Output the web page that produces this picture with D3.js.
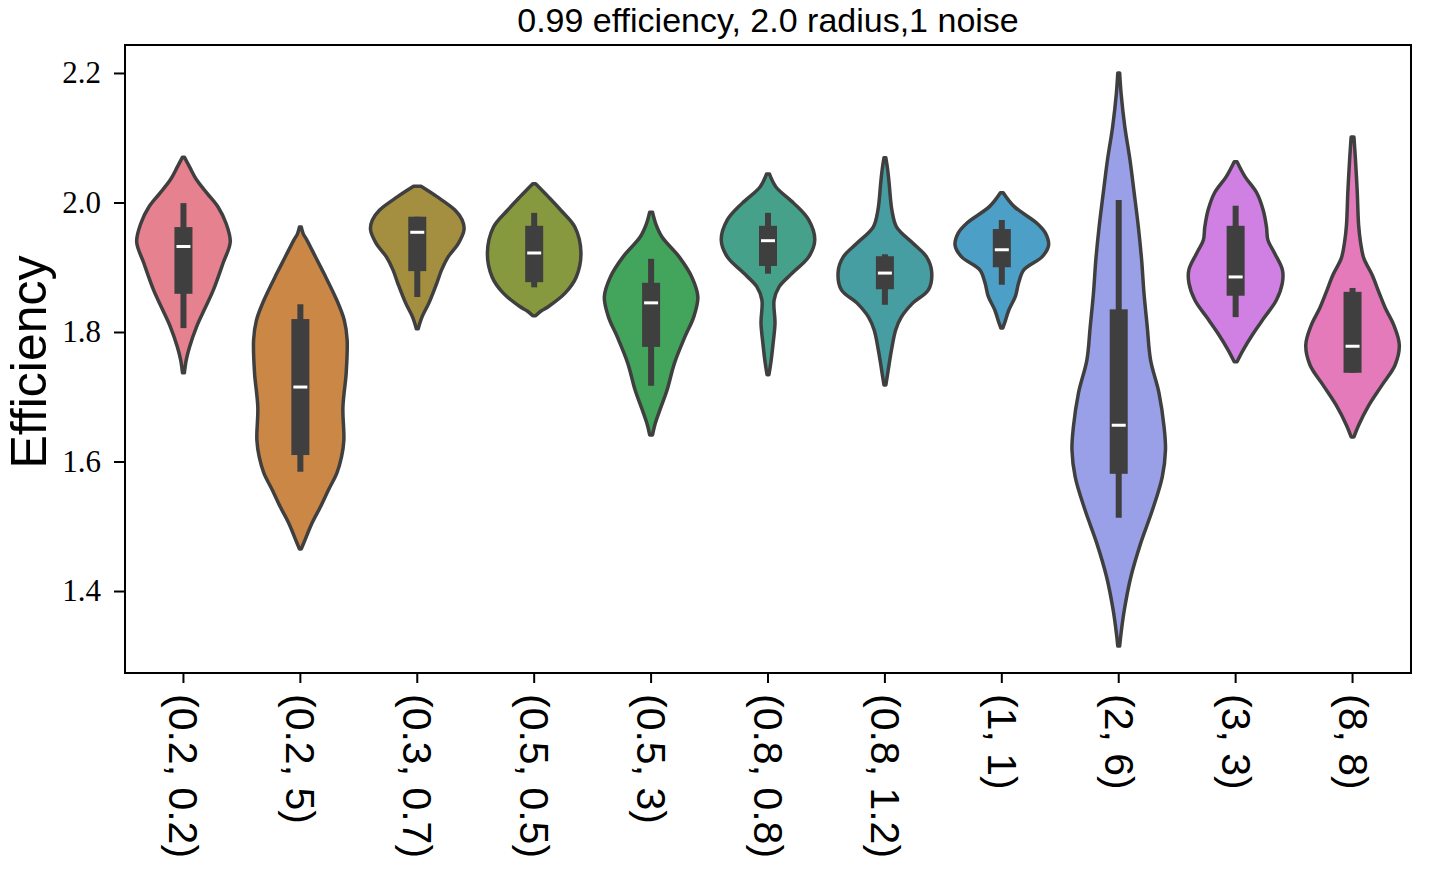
<!DOCTYPE html>
<html>
<head>
<meta charset="utf-8">
<script src="https://cdn.jsdelivr.net/npm/d3@7"></script>
<style>
  body { margin: 0; background: #fff; }
  svg { display: block; }
</style>
</head>
<body>
<div id="chart"></div>
<script>
// categories (x tick labels)
const categories = ['(0.2, 0.2)', '(0.2, 5)', '(0.3, 0.7)', '(0.5, 0.5)', '(0.5, 3)', '(0.8, 0.8)',
  '(0.8, 1.2)', '(1, 1)', '(2, 6)', '(3, 3)', '(8, 8)'];

const colors = ['#e6818f', '#cb8746', '#a48e3f', '#87993f', '#43a45c', '#46a18b',
  '#469ea2', '#4c9fc7', '#9aa0e7', '#d07fe3', '#e47aba'];

// violin outlines: [efficiency, relative density]
const profiles = [
  [[2.070, 0.02], [2.055, 0.13], [2.035, 0.28], [2.013, 0.52], [1.993, 0.74], [1.968, 0.91], [1.939, 1.0], [1.907, 0.85], [1.865, 0.64], [1.835, 0.45], [1.808, 0.28], [1.777, 0.13], [1.757, 0.06], [1.737, 0.02]],
  [[1.962, 0.02], [1.952, 0.06], [1.942, 0.14], [1.915, 0.33], [1.891, 0.5], [1.849, 0.78], [1.818, 0.94], [1.788, 1.0], [1.737, 0.98], [1.684, 0.91], [1.633, 0.93], [1.607, 0.88], [1.582, 0.78], [1.556, 0.6], [1.530, 0.43], [1.505, 0.25], [1.479, 0.1], [1.465, 0.02]],
  [[2.025, 0.08], [2.009, 0.42], [1.988, 0.81], [1.973, 0.96], [1.958, 1.0], [1.937, 0.88], [1.916, 0.66], [1.896, 0.52], [1.876, 0.42], [1.845, 0.25], [1.823, 0.1], [1.805, 0.02]],
  [[2.029, 0.03], [2.009, 0.3], [1.988, 0.57], [1.962, 0.87], [1.922, 1.0], [1.885, 0.9], [1.860, 0.66], [1.839, 0.3], [1.832, 0.14], [1.825, 0.03]],
  [[1.985, 0.03], [1.967, 0.1], [1.947, 0.23], [1.916, 0.6], [1.885, 0.87], [1.854, 1.0], [1.823, 0.91], [1.792, 0.72], [1.752, 0.5], [1.710, 0.34], [1.680, 0.19], [1.659, 0.09], [1.641, 0.03]],
  [[2.044, 0.03], [2.024, 0.17], [1.999, 0.55], [1.973, 0.87], [1.942, 1.0], [1.916, 0.87], [1.891, 0.52], [1.870, 0.24], [1.849, 0.13], [1.814, 0.15], [1.783, 0.11], [1.752, 0.06], [1.734, 0.02]],
  [[2.069, 0.02], [2.050, 0.06], [2.030, 0.09], [1.988, 0.15], [1.962, 0.25], [1.937, 0.6], [1.916, 0.89], [1.893, 1.0], [1.865, 0.93], [1.845, 0.6], [1.823, 0.35], [1.803, 0.23], [1.772, 0.14], [1.741, 0.07], [1.718, 0.02]],
  [[2.015, 0.03], [1.994, 0.26], [1.968, 0.75], [1.953, 0.93], [1.934, 1.0], [1.916, 0.86], [1.896, 0.47], [1.876, 0.36], [1.855, 0.29], [1.834, 0.15], [1.814, 0.06], [1.806, 0.02]],
  [[2.200, 0.02], [2.169, 0.05], [2.117, 0.13], [2.066, 0.24], [2.015, 0.33], [1.962, 0.42], [1.911, 0.49], [1.860, 0.54], [1.808, 0.61], [1.757, 0.68], [1.706, 0.86], [1.653, 0.97], [1.618, 1.0], [1.576, 0.93], [1.525, 0.72], [1.474, 0.47], [1.422, 0.26], [1.371, 0.12], [1.335, 0.05], [1.315, 0.02]],
  [[2.063, 0.03], [2.040, 0.2], [2.015, 0.45], [1.988, 0.59], [1.962, 0.66], [1.942, 0.69], [1.922, 0.83], [1.896, 1.0], [1.876, 1.0], [1.849, 0.87], [1.823, 0.62], [1.798, 0.38], [1.772, 0.16], [1.754, 0.03]],
  [[2.101, 0.03], [2.069, 0.06], [2.017, 0.1], [1.965, 0.13], [1.939, 0.17], [1.914, 0.24], [1.888, 0.42], [1.862, 0.56], [1.837, 0.7], [1.811, 0.88], [1.780, 1.0], [1.749, 0.91], [1.718, 0.63], [1.687, 0.35], [1.656, 0.13], [1.638, 0.03]]
];

// inner box: [whisker low, q1, median, q3, whisker high]
const boxes = [
  [1.806, 1.859, 1.932, 1.962, 1.999],
  [1.584, 1.610, 1.715, 1.820, 1.843],
  [1.854, 1.894, 1.954, 1.978, 1.978],
  [1.869, 1.877, 1.922, 1.964, 1.984],
  [1.717, 1.777, 1.845, 1.876, 1.913],
  [1.890, 1.902, 1.941, 1.964, 1.984],
  [1.842, 1.866, 1.891, 1.917, 1.920],
  [1.873, 1.900, 1.927, 1.959, 1.973],
  [1.513, 1.581, 1.656, 1.835, 2.004],
  [1.823, 1.856, 1.885, 1.964, 1.995],
  [1.737, 1.737, 1.778, 1.862, 1.868]
];

const yTicks = [1.4, 1.6, 1.8, 2.0, 2.2];

const w = 1435;
const h = 872;
const margin = { top: 45, right: 24, bottom: 199, left: 125 };

const svg = d3.select('#chart')
  .append('svg')
  .attr('width', w)
  .attr('height', h);

const xScale = d3.scaleBand()
  .domain(categories)
  .range([margin.left, w - margin.right])
  .padding(0);

const yScale = d3.scaleLinear()
  .domain([1.2734, 2.2432])
  .range([h - margin.bottom, margin.top]);

const wScale = d3.scaleLinear()
  .domain([0, 1])
  .range([0, xScale.bandwidth() * 0.4]);

const dark = '#3f3f3f';

const violins = svg.selectAll('.violin')
  .data(categories)
  .enter()
  .append('g')
  .attr('class', 'violin');

violins.append('path')
  .attr('d', (d, i) => {
    const cx = xScale(d) + xScale.bandwidth() / 2;
    return d3.area()
      .y(p => yScale(p[0]))
      .x0(p => cx - wScale(p[1]))
      .x1(p => cx + wScale(p[1]))
      .curve(d3.curveCatmullRom.alpha(0.5))(profiles[i]);
  })
  .attr('fill', (d, i) => colors[i])
  .attr('stroke', dark)
  .attr('stroke-width', 3.5)
  .attr('stroke-linejoin', 'round');

// whiskers
violins.append('line')
  .attr('x1', d => xScale(d) + xScale.bandwidth() / 2)
  .attr('x2', d => xScale(d) + xScale.bandwidth() / 2)
  .attr('y1', (d, i) => yScale(boxes[i][0]))
  .attr('y2', (d, i) => yScale(boxes[i][4]))
  .attr('stroke', dark)
  .attr('stroke-width', 6);

// boxes
violins.append('rect')
  .attr('x', d => xScale(d) + xScale.bandwidth() / 2 - 9)
  .attr('width', 18)
  .attr('y', (d, i) => yScale(boxes[i][3]))
  .attr('height', (d, i) => yScale(boxes[i][1]) - yScale(boxes[i][3]))
  .attr('fill', dark);

// medians
violins.append('line')
  .attr('x1', d => xScale(d) + xScale.bandwidth() / 2 - 7)
  .attr('x2', d => xScale(d) + xScale.bandwidth() / 2 + 7)
  .attr('y1', (d, i) => yScale(boxes[i][2]))
  .attr('y2', (d, i) => yScale(boxes[i][2]))
  .attr('stroke', '#fff')
  .attr('stroke-width', 3);

/**
 * AXES
 */
const yAxis = d3.axisLeft(yScale)
  .tickValues(yTicks)
  .tickFormat(d3.format('.1f'))
  .tickSize(11)
  .tickSizeOuter(0)
  .tickPadding(13);

const xAxis = d3.axisBottom(xScale)
  .tickSize(10)
  .tickSizeOuter(0);

svg.append('g')
  .attr('class', 'y-axis')
  .attr('transform', `translate(${margin.left},0)`)
  .call(yAxis);

svg.append('g')
  .attr('class', 'x-axis')
  .attr('transform', `translate(0,${h - margin.bottom})`)
  .call(xAxis);

d3.selectAll('.domain').remove();
d3.selectAll('.tick line').attr('stroke', '#000').attr('stroke-width', 2);

d3.selectAll('.y-axis .tick text')
  .attr('font-family', '"Liberation Serif", serif')
  .attr('font-size', 31)
  .attr('fill', '#000');

d3.selectAll('.x-axis .tick text')
  .attr('font-family', '"Liberation Sans", Arial, sans-serif')
  .attr('font-size', 41)
  .attr('fill', '#000')
  .attr('text-anchor', 'start')
  .attr('dy', null)
  .attr('y', null)
  .attr('dominant-baseline', 'central')
  .attr('transform', 'translate(0,21) rotate(90)');

// frame
svg.append('rect')
  .attr('x', margin.left)
  .attr('y', margin.top)
  .attr('width', w - margin.left - margin.right)
  .attr('height', h - margin.top - margin.bottom)
  .attr('fill', 'none')
  .attr('stroke', '#000')
  .attr('stroke-width', 2);

svg.append('text')
  .attr('x', (margin.left + w - margin.right) / 2)
  .attr('y', 32)
  .attr('text-anchor', 'middle')
  .attr('font-family', '"Liberation Sans", Arial, sans-serif')
  .attr('font-size', 34)
  .text('0.99 efficiency, 2.0 radius,1 noise');

svg.append('text')
  .attr('text-anchor', 'middle')
  .attr('transform', `translate(46, 362) rotate(-90)`)
  .attr('font-family', '"Liberation Sans", Arial, sans-serif')
  .attr('font-size', 50)
  .text('Efficiency');
</script>
</body>
</html>
